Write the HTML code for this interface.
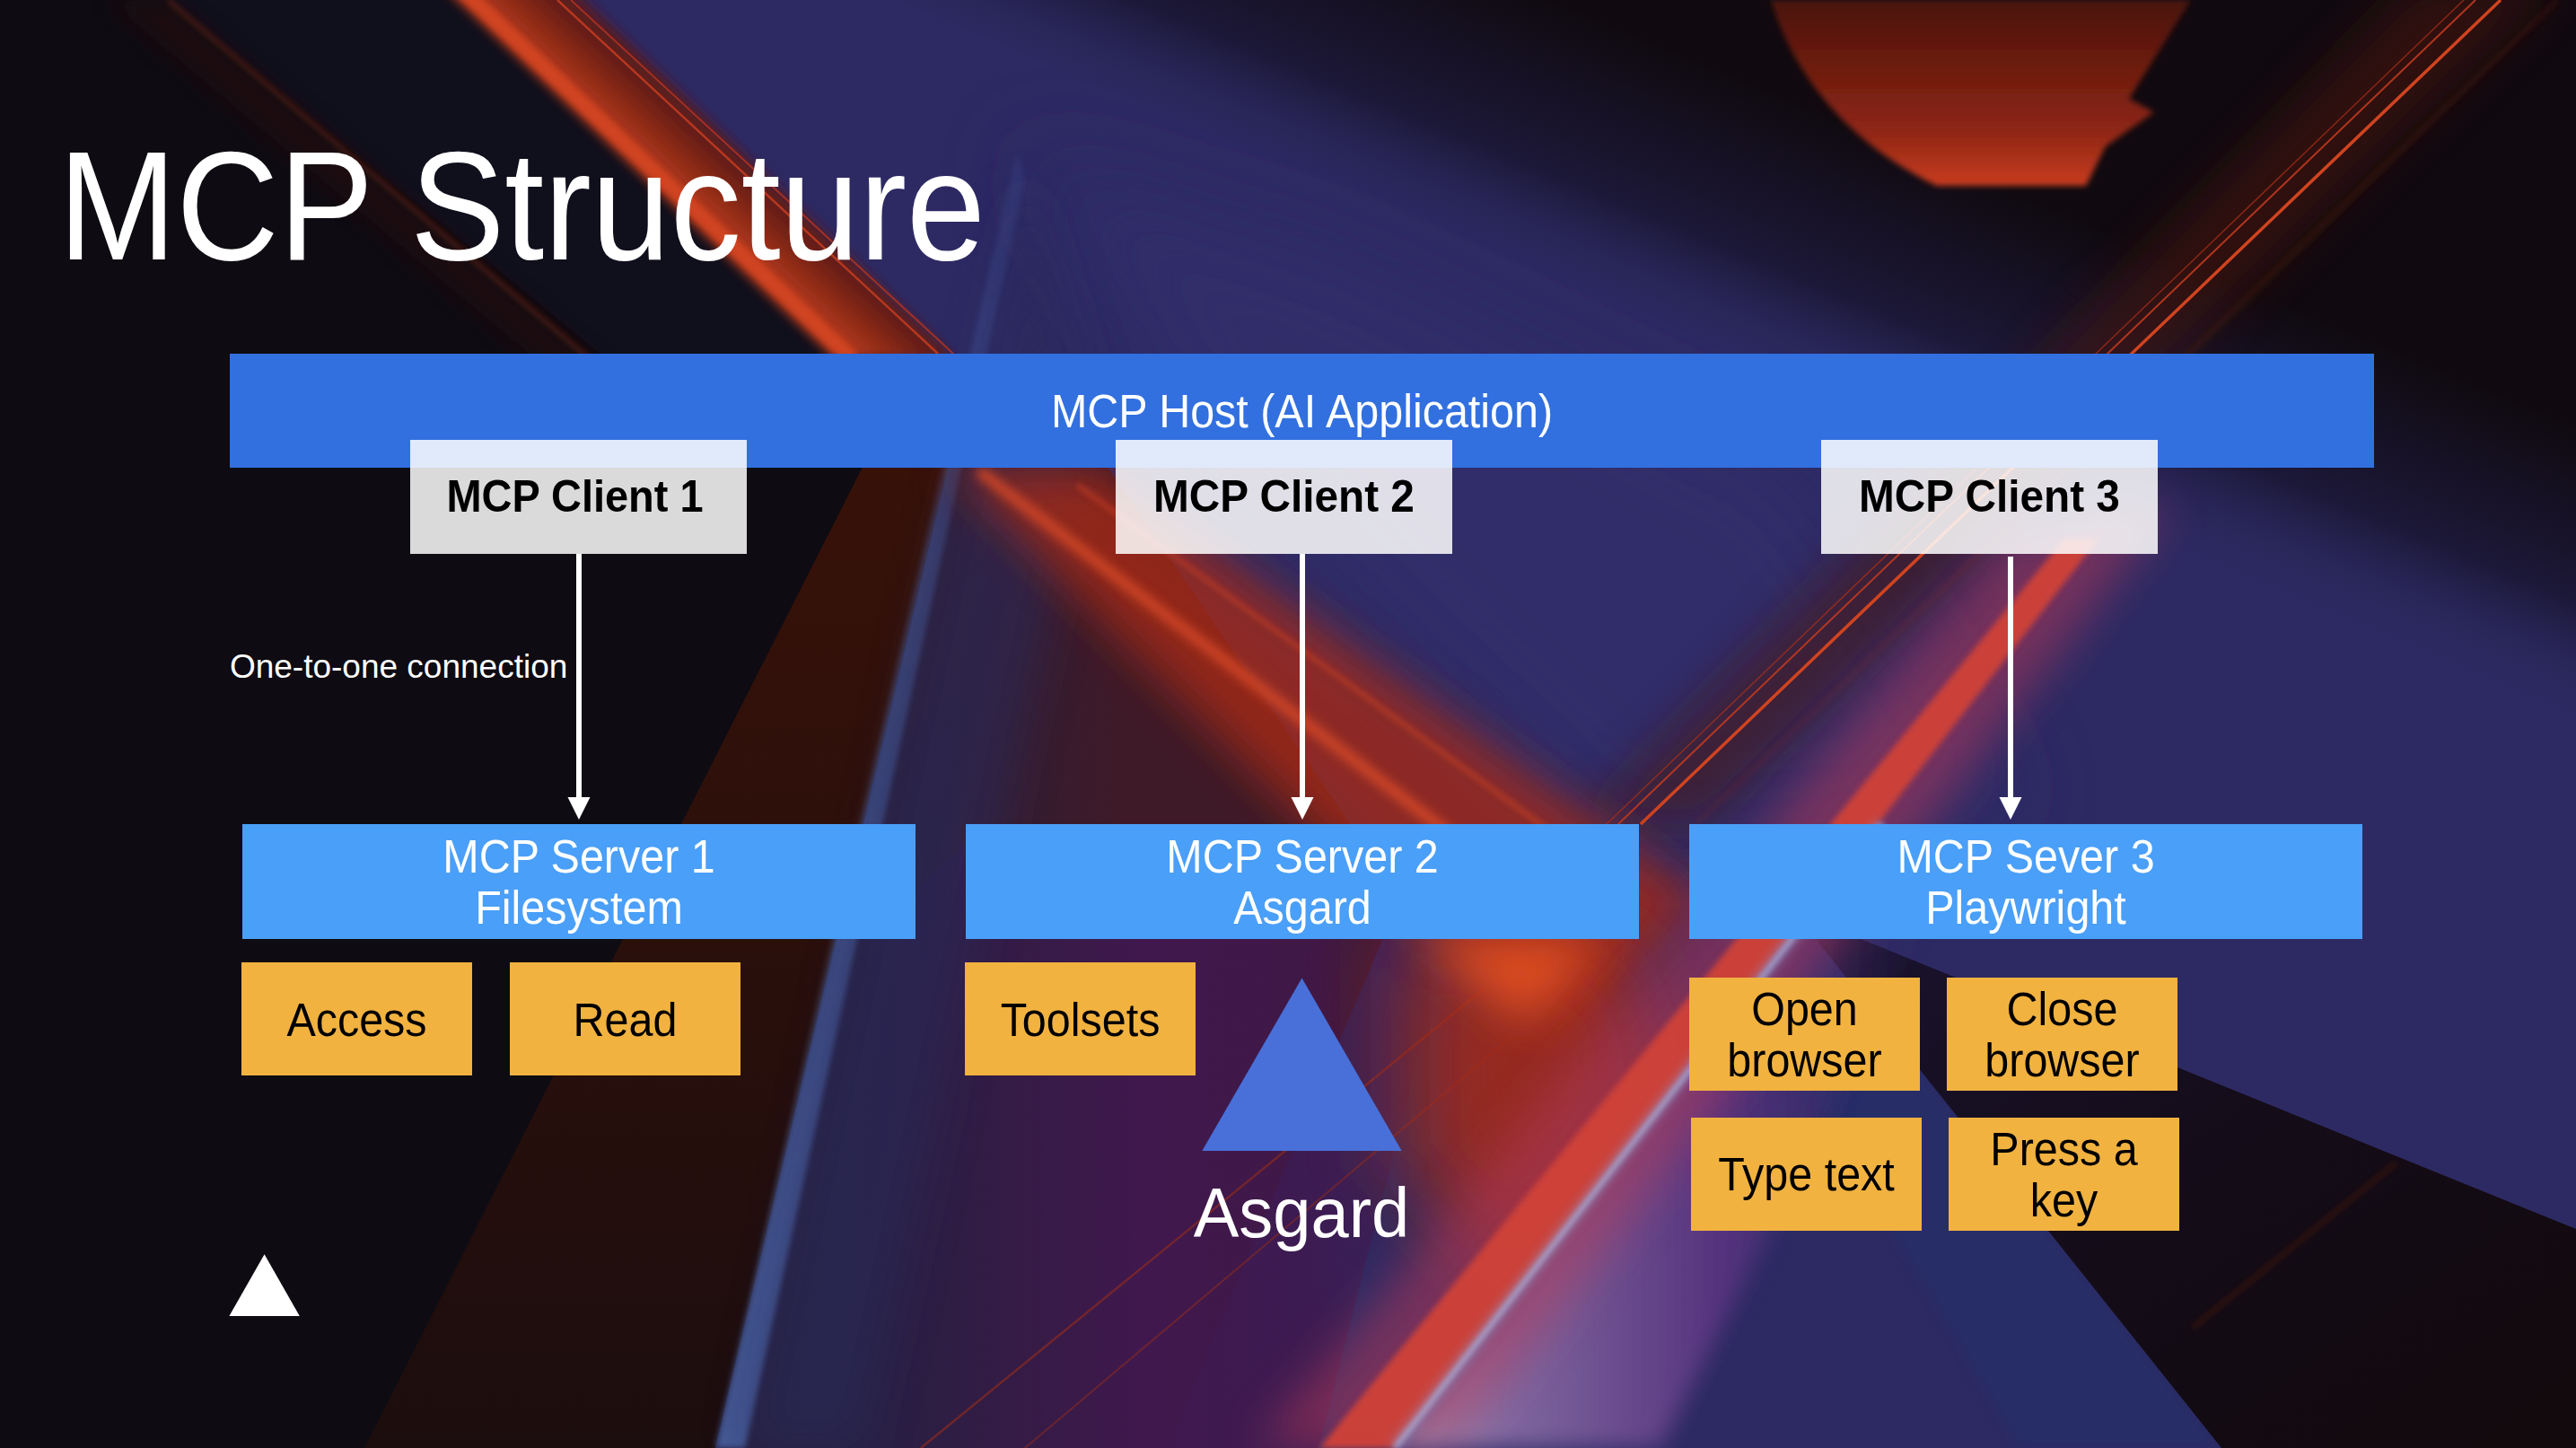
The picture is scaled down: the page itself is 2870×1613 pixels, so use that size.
<!DOCTYPE html>
<html><head><meta charset="utf-8">
<style>
html,body{margin:0;padding:0;}
body{width:2870px;height:1613px;overflow:hidden;position:relative;background:#100d18;font-family:"Liberation Sans",sans-serif;}
#bg{position:absolute;left:0;top:0;width:2870px;height:1613px;}
.abs{position:absolute;}
.t{position:absolute;white-space:nowrap;text-align:center;}
.host{left:256px;top:394px;width:2389px;height:127px;background:#3270e0;}
.client{top:490px;width:375px;height:127px;background:rgba(255,255,255,0.85);}
.server{top:918px;width:750px;height:128px;background:#4a9ff8;}
.tool{width:257px;height:126px;background:#f1b240;}
.line{background:#fff;width:6px;}
</style></head>
<body>
<svg id="bg" width="2870" height="1613" viewBox="0 0 2870 1613" xmlns="http://www.w3.org/2000/svg">
<defs>
<filter id="b3" x="-20%" y="-20%" width="140%" height="140%"><feGaussianBlur stdDeviation="3"/></filter>
<filter id="b6" x="-20%" y="-20%" width="140%" height="140%"><feGaussianBlur stdDeviation="6"/></filter>
<filter id="b12" x="-30%" y="-30%" width="160%" height="160%"><feGaussianBlur stdDeviation="12"/></filter>
<filter id="b25" x="-40%" y="-40%" width="180%" height="180%"><feGaussianBlur stdDeviation="25"/></filter>
<filter id="b50" x="-50%" y="-50%" width="200%" height="200%"><feGaussianBlur stdDeviation="50"/></filter>
<linearGradient id="semi" x1="0" y1="0" x2="0" y2="1"><stop offset="0" stop-color="#4a120c"/><stop offset="0.7" stop-color="#8e2614"/><stop offset="1" stop-color="#c83c20"/></linearGradient>
<linearGradient id="brown" x1="0" y1="0" x2="0" y2="1"><stop offset="0" stop-color="#3a1208"/><stop offset="1" stop-color="#1c0d0e"/></linearGradient>
<linearGradient id="dpurp" gradientUnits="userSpaceOnUse" x1="950" y1="0" x2="1250" y2="0"><stop offset="0" stop-color="#262040"/><stop offset="1" stop-color="#3e1a28"/></linearGradient>
<linearGradient id="wedgeTR" gradientUnits="userSpaceOnUse" x1="2000" y1="307" x2="2069" y2="141"><stop offset="0" stop-color="#1c1838"/><stop offset="1" stop-color="#100a10"/></linearGradient>
<linearGradient id="wedgeSoft" gradientUnits="userSpaceOnUse" x1="2000" y1="307" x2="1950" y2="427"><stop offset="0" stop-color="#1c1838"/><stop offset="1" stop-color="#2d2a63" stop-opacity="0"/></linearGradient>
<linearGradient id="purpBC" gradientUnits="userSpaceOnUse" x1="850" y1="0" x2="1620" y2="0"><stop offset="0" stop-color="#262448" stop-opacity="0"/><stop offset="0.2" stop-color="#2a1e48" stop-opacity="0.6"/><stop offset="0.55" stop-color="#40184e"/><stop offset="0.8" stop-color="#40184e" stop-opacity="0.8"/><stop offset="1" stop-color="#40184e" stop-opacity="0"/></linearGradient>
<linearGradient id="wedgeBR" x1="0" y1="0" x2="1" y2="1"><stop offset="0" stop-color="#1a1430"/><stop offset="0.5" stop-color="#140c18"/><stop offset="1" stop-color="#120a0c"/></linearGradient>
<linearGradient id="lav" x1="0" y1="0" x2="1" y2="0"><stop offset="0" stop-color="#a8b0d8"/><stop offset="0.2" stop-color="#8a70a8"/><stop offset="0.6" stop-color="#5a3480"/><stop offset="1" stop-color="#2e2a66" stop-opacity="0"/></linearGradient>
<linearGradient id="bandA" gradientUnits="userSpaceOnUse" x1="683" y1="150" x2="765" y2="62"><stop offset="0" stop-color="#b83a1e"/><stop offset="0.5" stop-color="#6a1e12"/><stop offset="1" stop-color="#3a1430" stop-opacity="0.6"/></linearGradient>
<linearGradient id="blueEdge" gradientUnits="userSpaceOnUse" x1="0" y1="169" x2="0" y2="1613"><stop offset="0" stop-color="#4a68b0" stop-opacity="0.15"/><stop offset="0.3" stop-color="#4a68b0" stop-opacity="0.45"/><stop offset="1" stop-color="#5070b8" stop-opacity="0.7"/></linearGradient>
</defs>
<rect width="2870" height="1613" fill="#0e0b12"/>
<polygon points="187,0 515,0 935,400 960,521 700,420" fill="#100f1c" opacity="1.0"/>
<polygon points="120,0 187,0 700,436 640,436" fill="#2a0e0a" opacity="0.5" filter="url(#b12)"/>
<line x1="187" y1="0" x2="700" y2="436" stroke="#7a2a14" stroke-width="3" opacity="0.8" filter="url(#b3)"/>
<polygon points="600,0 1262,0 2870,669 2870,1613 797,1613 1100,521 1000,400" fill="#2d2a63" opacity="1.0"/>
<polygon points="1133,169 1500,280 2000,520 2250,900 1800,950 1350,520" fill="#332e6c" opacity="0.8" filter="url(#b50)"/>
<polygon points="1262,0 2870,0 2870,669" fill="url(#wedgeTR)" opacity="1.0"/>
<polygon points="1262,0 2870,669 2870,800 1000,0" fill="url(#wedgeSoft)" opacity="1.0"/>
<path d="M1973,0 C1990,60 2040,150 2158,207 L2324,207 L2346,163 L2400,125 L2372,110 L2441,0 Z" fill="url(#semi)" filter="url(#b3)"/>
<polygon points="2690,-20 2850,-20 1900,918 1760,918" fill="#4a160e" opacity="0.55" filter="url(#b25)"/>
<line x1="2786" y1="0" x2="1828" y2="918" stroke="#d04420" stroke-width="3.5" opacity="1.0"/>
<line x1="2758" y1="0" x2="1803" y2="918" stroke="#c03a20" stroke-width="2" opacity="0.9"/>
<line x1="2745" y1="0" x2="1790" y2="918" stroke="#b03018" stroke-width="1.5" opacity="0.7"/>
<line x1="2850" y1="0" x2="1890" y2="918" stroke="#8a2a18" stroke-width="2" opacity="0.5" filter="url(#b3)"/>
<polygon points="477,-30 622,-30 1065,400 930,400" fill="url(#bandA)" opacity="1.0" filter="url(#b6)"/>
<line x1="496" y1="-30" x2="950" y2="400" stroke="#d24422" stroke-width="16" opacity="0.95" filter="url(#b3)"/>
<line x1="621" y1="0" x2="1045" y2="394" stroke="#c03a20" stroke-width="2.5" opacity="0.9"/>
<line x1="636" y1="0" x2="1062" y2="394" stroke="#b83420" stroke-width="2" opacity="0.8"/>
<polygon points="1012,420 1080,420 797,1613 406,1613" fill="url(#brown)" opacity="1.0"/>
<polygon points="1080,420 1200,470 1560,1000 1300,1613 797,1613" fill="url(#dpurp)" opacity="1.0"/>
<polygon points="960,1046 1100,918 1560,918 1600,1100 1469,1613 797,1613" fill="url(#purpBC)" opacity="1.0"/>
<line x1="1026" y1="1613" x2="1655" y2="1100" stroke="#8a2a20" stroke-width="2.5" opacity="0.7"/>
<line x1="1142" y1="1613" x2="1678" y2="1160" stroke="#8a2a20" stroke-width="2" opacity="0.6"/>
<polygon points="1900,1016 1999,1016 2475,1613 2250,1613" fill="#262f68" opacity="0.8" filter="url(#b6)"/>
<polygon points="1999,1016 2870,1369 2870,1613 2475,1613" fill="url(#wedgeBR)" opacity="1.0"/>
<line x1="2443" y1="1479" x2="2670" y2="1295" stroke="#6a2010" stroke-width="3" opacity="0.6" filter="url(#b3)"/>
<polygon points="1133,169 1142,200 830,1613 797,1613" fill="url(#blueEdge)" opacity="1.0" filter="url(#b3)"/>
<polygon points="1142,200 1220,450 960,1613 830,1613" fill="#2c2c5c" opacity="0.5" filter="url(#b25)"/>
<polygon points="1060,520 1220,520 1900,1000 1750,1150 1540,1000" fill="#a82c18" opacity="0.78" filter="url(#b25)"/>
<line x1="1090" y1="524" x2="1720" y2="1010" stroke="#d84a28" stroke-width="12" opacity="0.9" filter="url(#b6)"/>
<line x1="1200" y1="540" x2="1800" y2="980" stroke="#c84024" stroke-width="5" opacity="0.7" filter="url(#b3)"/>
<polygon points="1560,1046 1800,1046 1860,1200 1700,1450 1560,1300" fill="#a82c18" opacity="0.85" filter="url(#b50)"/>
<polygon points="1580,1046 1790,1046 1700,1140" fill="#e05024" opacity="0.95" filter="url(#b25)"/>
<polygon points="1554,1613 2096,918 2160,1000 1850,1613" fill="url(#lav)" opacity="0.9" filter="url(#b12)"/>
<polygon points="2230,600 2420,560 1620,1613 1400,1613" fill="#b03858" opacity="0.55" filter="url(#b25)"/>
<polygon points="2300,600 2338,600 1554,1613 1470,1613" fill="#d04238" opacity="0.95" filter="url(#b3)"/>
<line x1="2096" y1="918" x2="1554" y2="1613" stroke="#8a90c8" stroke-width="14" opacity="0.5" filter="url(#b6)"/>
<line x1="2096" y1="918" x2="1554" y2="1613" stroke="#b0c4f0" stroke-width="4" opacity="0.95" filter="url(#b3)"/>
</svg>
<div class="t" style="left:65.4px;width:1400.0px;top:129.3px;font-size:173px;line-height:200px;color:#fff;text-align:left;transform-origin:0 0;transform:scaleX(0.913);">MCP Structure</div>
<div class="abs host"></div>
<div class="t" style="left:256.0px;width:2389.0px;top:428.7px;font-size:51px;line-height:60px;color:#fff;transform:scaleX(0.95);">MCP Host (AI Application)</div>
<div class="abs client" style="left:457px;"></div>
<div class="abs client" style="left:1243px;"></div>
<div class="abs client" style="left:2029px;"></div>
<div class="t" style="left:453.0px;width:375.0px;top:523.3px;font-size:50.5px;line-height:60px;color:#000;font-weight:bold;transform:scaleX(0.93);">MCP Client 1</div>
<div class="t" style="left:1243.0px;width:375.0px;top:523.3px;font-size:50.5px;line-height:60px;color:#000;font-weight:bold;transform:scaleX(0.945);">MCP Client 2</div>
<div class="t" style="left:2029.0px;width:375.0px;top:523.3px;font-size:50.5px;line-height:60px;color:#000;font-weight:bold;transform:scaleX(0.945);">MCP Client 3</div>
<div class="abs line" style="left:642px;top:617px;height:272px;"></div>
<div class="abs line" style="left:1448px;top:617px;height:272px;"></div>
<div class="abs line" style="left:2237px;top:620px;height:269px;"></div>
<svg class="abs" style="left:0;top:0;" width="2870" height="1613">
<polygon points="632.5,888 657.5,888 645,913" fill="#fff"/>
<polygon points="1438.5,888 1463.5,888 1451,913" fill="#fff"/>
<polygon points="2227.5,888 2252.5,888 2240,913" fill="#fff"/>
</svg>
<div class="t" style="left:255.9px;width:600.0px;top:721.5px;font-size:37px;line-height:42px;color:#fff;text-align:left;transform-origin:0 0;">One-to-one connection</div>
<div class="abs server" style="left:270px;"></div>
<div class="t" style="left:270.0px;width:750.0px;top:926.0px;font-size:51px;line-height:57px;color:#fff;transform:scaleX(0.95);">MCP Server 1<br>Filesystem</div>
<div class="abs server" style="left:1076px;"></div>
<div class="t" style="left:1076.0px;width:750.0px;top:926.0px;font-size:51px;line-height:57px;color:#fff;transform:scaleX(0.95);">MCP Server 2<br>Asgard</div>
<div class="abs server" style="left:1882px;"></div>
<div class="t" style="left:1882.0px;width:750.0px;top:926.0px;font-size:51px;line-height:57px;color:#fff;transform:scaleX(0.95);">MCP Sever 3<br>Playwright</div>
<div class="abs tool" style="left:269px;top:1072px;"></div>
<div class="abs tool" style="left:568px;top:1072px;"></div>
<div class="abs tool" style="left:1075px;top:1072px;"></div>
<div class="abs tool" style="left:1882px;top:1089px;"></div>
<div class="abs tool" style="left:2169px;top:1089px;"></div>
<div class="abs tool" style="left:1884px;top:1245px;"></div>
<div class="abs tool" style="left:2171px;top:1245px;"></div>
<div class="t" style="left:269.0px;width:257.0px;top:1106.6px;font-size:51px;line-height:60px;color:#000;transform:scaleX(0.95);">Access</div>
<div class="t" style="left:568.0px;width:257.0px;top:1106.6px;font-size:51px;line-height:60px;color:#000;transform:scaleX(0.95);">Read</div>
<div class="t" style="left:1075.0px;width:257.0px;top:1106.6px;font-size:51px;line-height:60px;color:#000;transform:scaleX(0.95);">Toolsets</div>
<div class="t" style="left:1882.0px;width:257.0px;top:1095.8px;font-size:51px;line-height:57px;color:#000;transform:scaleX(0.95);">Open<br>browser</div>
<div class="t" style="left:2169.0px;width:257.0px;top:1095.8px;font-size:51px;line-height:57px;color:#000;transform:scaleX(0.95);">Close<br>browser</div>
<div class="t" style="left:1884.0px;width:257.0px;top:1279.0px;font-size:51px;line-height:60px;color:#000;transform:scaleX(0.95);">Type text</div>
<div class="t" style="left:2171.0px;width:257.0px;top:1251.8px;font-size:51px;line-height:57px;color:#000;transform:scaleX(0.95);">Press a<br>key</div>
<svg class="abs" style="left:0;top:0;" width="2870" height="1613">
<polygon points="1450.5,1089.5 1561.7,1282 1339.3,1282" fill="#4870d8"/>
<polygon points="294.6,1397.3 333.8,1466 255.4,1466" fill="#fff"/>
</svg>
<div class="t" style="left:1200.4px;width:500.0px;top:1306.0px;font-size:78.5px;line-height:90px;color:#fff;transform:scaleX(0.967);">Asgard</div>
</body></html>
